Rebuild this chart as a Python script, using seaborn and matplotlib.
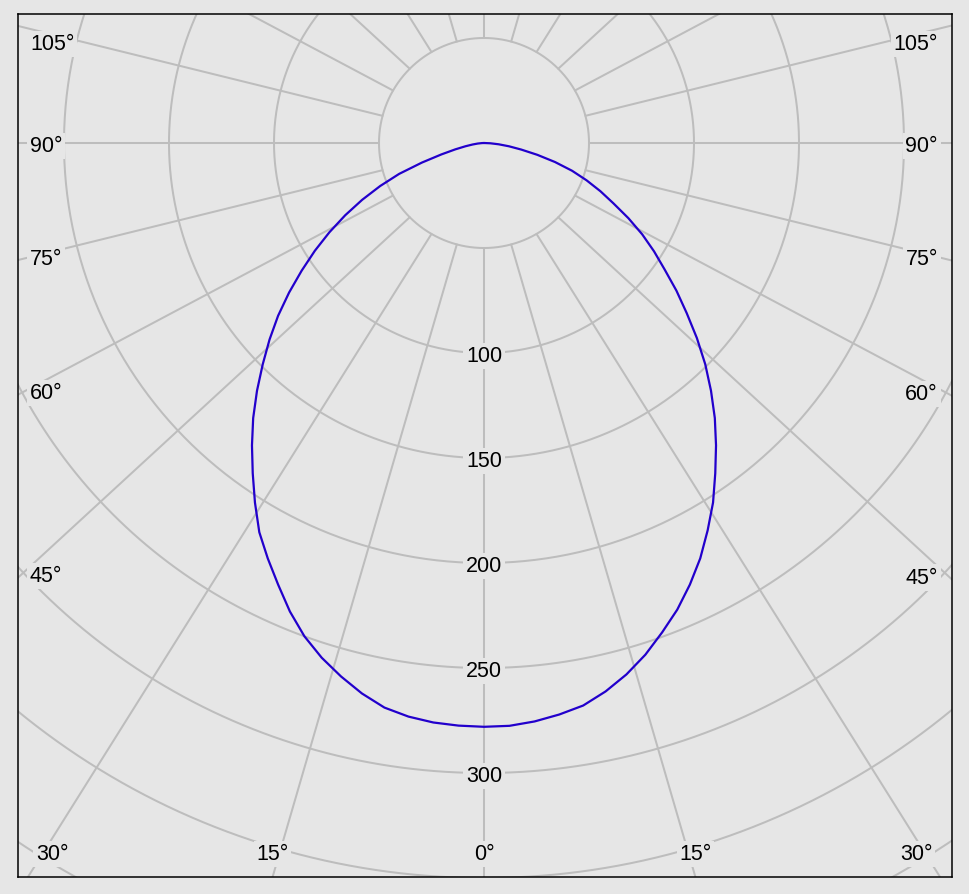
import numpy as np
import pandas as pd
import matplotlib
matplotlib.use("Agg")
import matplotlib.pyplot as plt
import seaborn as sns

gamma = [0, 2.5, 5, 7.5, 10, 12.5, 15, 17.5, 20, 22.5, 25, 27.5, 30, 32.5, 35, 37.5,
         40, 42.5, 45, 47.5, 50, 52.5, 55, 57.5, 60, 62.5, 65, 67.5, 70, 72.5, 75,
         77.5, 80, 82.5, 85, 87.5, 90]
i_right = [278, 277.8, 276.5, 274.5, 272, 267.5, 262, 255.5, 248, 240.5, 232, 223,
           213, 203, 192, 181.5, 171, 160, 149, 137.5, 126, 115.5, 105, 96, 87, 77.5,
           68, 60, 52, 44, 35, 26, 18, 12, 7, 3, 0]
i_left = [278, 277.7, 277, 275.5, 273, 268.5, 263, 257, 250, 241.5, 232, 223,
          214, 203, 192, 181.5, 171, 160, 149, 138.5, 128, 117, 106, 95.5, 85, 74.5,
          64, 53.5, 43, 31, 21, 14, 9, 5.5, 3, 1, 0]

ring_values = [50, 100, 150, 200, 250, 300, 350, 400, 450]
ring_labels = [100, 150, 200, 250, 300]
spoke_angles = list(range(0, 360, 15))

bg = "#e6e6e6"
grid_col = "#bdbdbd"
curve_col = "#2200cc"
px = 2.1          # pixels per intensity unit
K = 0.92          # the spokes in the original are drawn slightly squashed

sns.set_theme(style="white")
plt.rcParams["font.family"] = ["Liberation Sans", "DejaVu Sans"]

fig = plt.figure(figsize=(9.69, 8.95), dpi=100, facecolor=bg)
ax = fig.add_axes([18 / 969, 17 / 895, 934 / 969, 863 / 895])
ax.set_facecolor(bg)
xmin, xmax = -466 / px, 468 / px
ymin, ymax = -734 / px, 129 / px
ax.set_xlim(xmin, xmax)
ax.set_ylim(ymin, ymax)
ax.set_xticks([])
ax.set_yticks([])
for s in ax.spines.values():
    s.set_color("black")
    s.set_linewidth(1.1)

# rings
t = np.linspace(0, 2 * np.pi, 721)
for r in ring_values:
    ax.plot(r * np.sin(t), r * np.cos(t), color=grid_col, lw=1.45, zorder=1)

# spokes and their angle labels
for g in spoke_angles:
    a = np.radians(g)
    p0 = np.array([50 * np.sin(a), -50 * np.cos(a)])
    d = np.array([np.sin(a), -K * np.cos(a)])
    d = d / np.hypot(*d)
    p1 = p0 + 700 * d
    ax.plot([p0[0], p1[0]], [p0[1], p1[1]], color=grid_col, lw=1.45, zorder=1)

    hits = []
    if d[0] < -1e-9:
        hits.append(((xmin - p0[0]) / d[0], "left"))
    if d[0] > 1e-9:
        hits.append(((xmax - p0[0]) / d[0], "right"))
    if d[1] < -1e-9:
        hits.append(((ymin - p0[1]) / d[1], "bottom"))
    if d[1] > 1e-9:
        hits.append(((ymax - p0[1]) / d[1], "top"))
    tt, edge = min(hits)
    if edge == "top":
        continue
    hx, hy = p0 + tt * d
    lab = f"{g if g <= 180 else 360 - g}°"
    box = dict(boxstyle="square,pad=0.12", fc=bg, ec="none")
    ly = min(hy + 2 / px, ymax - 30 / px) if g % 90 else hy - 3 / px
    if edge == "left":
        ax.text(xmin + 12 / px, ly, lab, ha="left", va="center",
                fontsize=15.5, color="black", bbox=box, zorder=3)
    elif edge == "right":
        ax.text(xmax - 14 / px, ly, lab, ha="right", va="center",
                fontsize=15.5, color="black", bbox=box, zorder=3)
    else:
        cx = min(max(hx, xmin + 34 / px), xmax - 36 / px)
        ax.text(cx, ymin + 23 / px, lab, ha="center", va="center",
                fontsize=15.5, color="black", bbox=box, zorder=3)

# intensity labels on the rings
for r in ring_labels:
    ax.text(0, -r - 3 / px, str(r), ha="center", va="center", fontsize=15.5, color="black",
            bbox=dict(boxstyle="square,pad=0.12", fc=bg, ec="none"), zorder=3)

# curve: left half (C180) then right half (C0)
g = np.radians(np.array(gamma))
il = np.array(i_left)
ir = np.array(i_right)
xs = np.concatenate([-(il * np.sin(g))[::-1], (ir * np.sin(g))[1:]])
ys = np.concatenate([-(il * np.cos(g))[::-1], -(ir * np.cos(g))[1:]])
df = pd.DataFrame({"x": xs, "y": ys, "order": np.arange(len(xs))})
sns.lineplot(data=df, x="x", y="y", sort=False, estimator=None, color=curve_col,
             lw=1.6, ax=ax, zorder=4)
ax.set_xlabel("")
ax.set_ylabel("")

fig.savefig("out.png", dpi=100, facecolor=bg)
